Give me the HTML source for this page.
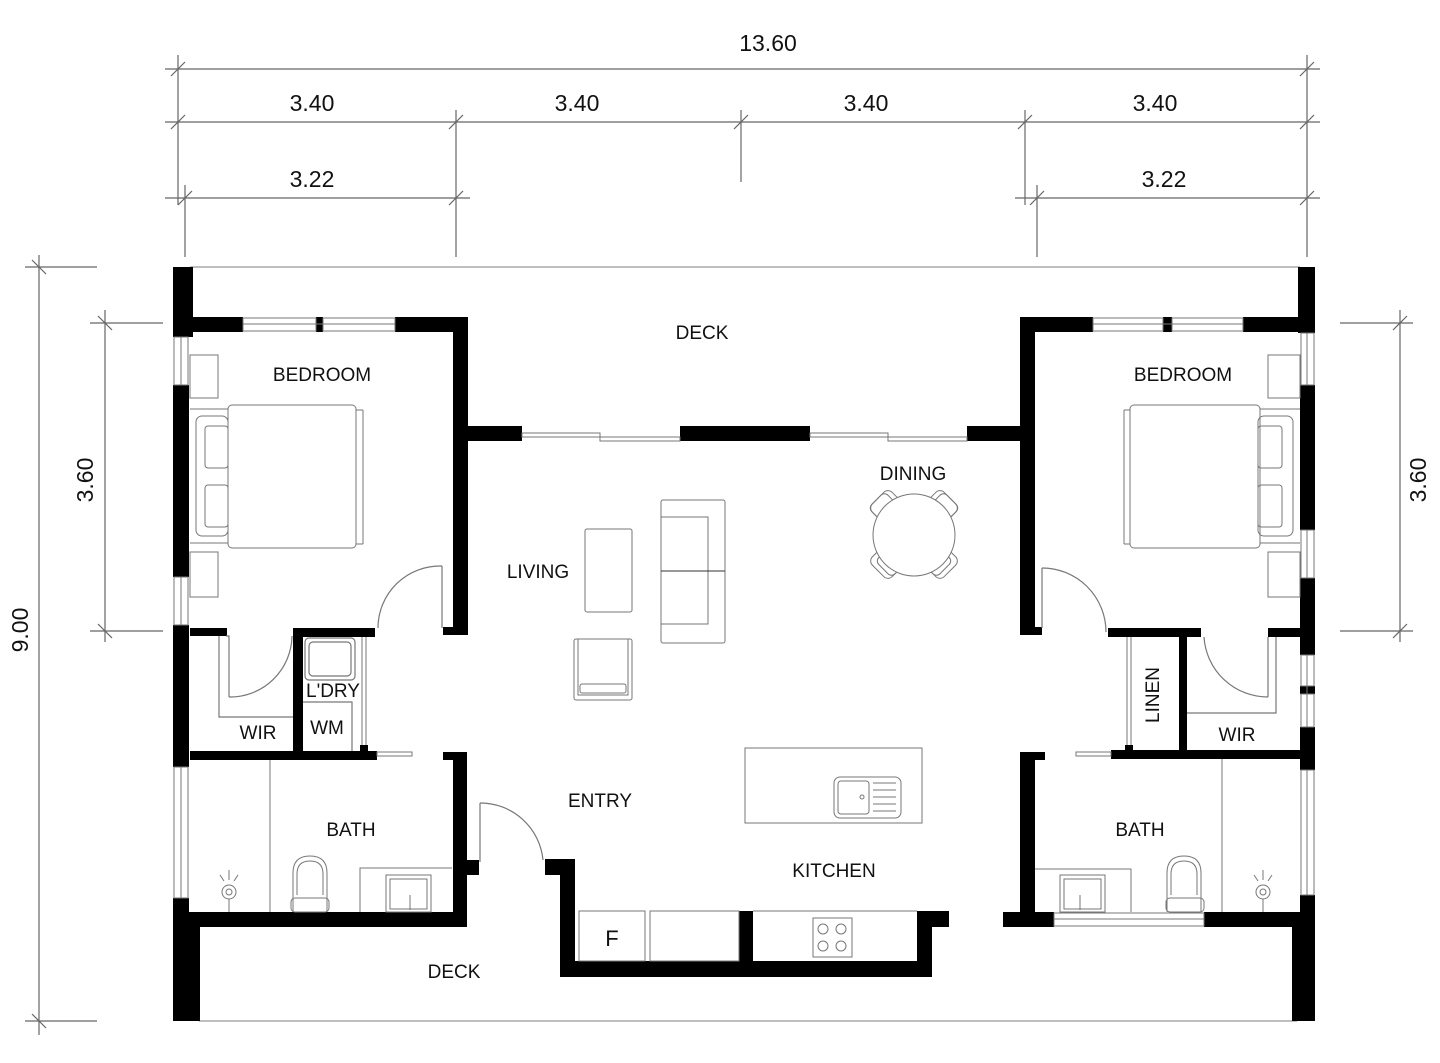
<!DOCTYPE html>
<html><head><meta charset="utf-8"><style>
html,body{margin:0;padding:0;background:#fff;}
svg{display:block;}
text{font-family:"Liberation Sans",Arial,sans-serif;fill:#111;}
.d{stroke:#666;stroke-width:1.2;fill:none;}
.f{stroke:#777;stroke-width:1.2;fill:none;}
.w{fill:#000;}
.win{fill:#fff;stroke:#777;stroke-width:1;}
.lbl{font-size:19px;}
.dim{font-size:23px;}
</style></head><body>
<svg width="1440" height="1063" viewBox="0 0 1440 1063" xmlns="http://www.w3.org/2000/svg">
<g class="d">
<line x1="165" y1="69" x2="1320" y2="69"/>
<line x1="165" y1="122" x2="1320" y2="122"/>
<line x1="165" y1="198" x2="470" y2="198"/>
<line x1="1015" y1="198" x2="1320" y2="198"/>
<line x1="178" y1="55" x2="178" y2="205"/>
<line x1="185" y1="185" x2="185" y2="257"/>
<line x1="456" y1="110" x2="456" y2="257"/>
<line x1="741" y1="110" x2="741" y2="182"/>
<line x1="1025" y1="110" x2="1025" y2="205"/>
<line x1="1037" y1="185" x2="1037" y2="257"/>
<line x1="1307" y1="55" x2="1307" y2="257"/>
<line x1="171" y1="76" x2="185" y2="62"/><line x1="1300" y1="76" x2="1314" y2="62"/>
<line x1="171" y1="129" x2="185" y2="115"/><line x1="449" y1="129" x2="463" y2="115"/>
<line x1="734" y1="129" x2="748" y2="115"/><line x1="1018" y1="129" x2="1032" y2="115"/>
<line x1="1300" y1="129" x2="1314" y2="115"/>
<line x1="178" y1="205" x2="192" y2="191"/><line x1="449" y1="205" x2="463" y2="191"/>
<line x1="1030" y1="205" x2="1044" y2="191"/><line x1="1300" y1="205" x2="1314" y2="191"/>
<line x1="39" y1="255" x2="39" y2="1035"/>
<line x1="25" y1="267" x2="97" y2="267"/><line x1="25" y1="1021" x2="97" y2="1021"/>
<line x1="32" y1="260" x2="46" y2="274"/><line x1="32" y1="1014" x2="46" y2="1028"/>
<line x1="105" y1="310" x2="105" y2="642"/>
<line x1="90" y1="323" x2="163" y2="323"/><line x1="90" y1="631" x2="163" y2="631"/>
<line x1="98" y1="316" x2="112" y2="330"/><line x1="98" y1="624" x2="112" y2="638"/>
<line x1="1400" y1="310" x2="1400" y2="642"/>
<line x1="1340" y1="323" x2="1413" y2="323"/><line x1="1340" y1="631" x2="1413" y2="631"/>
<line x1="1393" y1="330" x2="1407" y2="316"/><line x1="1393" y1="638" x2="1407" y2="624"/>
</g>
<text class="dim" x="768" y="51" text-anchor="middle">13.60</text>
<text class="dim" x="312" y="111" text-anchor="middle">3.40</text>
<text class="dim" x="577" y="111" text-anchor="middle">3.40</text>
<text class="dim" x="866" y="111" text-anchor="middle">3.40</text>
<text class="dim" x="1155" y="111" text-anchor="middle">3.40</text>
<text class="dim" x="312" y="187" text-anchor="middle">3.22</text>
<text class="dim" x="1164" y="187" text-anchor="middle">3.22</text>
<text class="dim" transform="translate(28,630) rotate(-90)" text-anchor="middle">9.00</text>
<text class="dim" transform="translate(93,480) rotate(-90)" text-anchor="middle">3.60</text>
<text class="dim" transform="translate(1426,480) rotate(-90)" text-anchor="middle">3.60</text>

<g class="d" style="stroke:#999">
<line x1="190" y1="267" x2="1300" y2="267"/>
<line x1="199" y1="1021" x2="1297" y2="1021"/>
</g>

<g class="w">
<rect x="173" y="267" width="20" height="70"/>
<rect x="173" y="385" width="16" height="192"/>
<rect x="173" y="625" width="16" height="142"/>
<rect x="173" y="898" width="16" height="30"/>
<rect x="173" y="912" width="27" height="109"/>
<rect x="190" y="317" width="53" height="15"/>
<rect x="316" y="317" width="7" height="15"/>
<rect x="395" y="317" width="73" height="15"/>
<rect x="453" y="317" width="15" height="318"/>
<rect x="443" y="627" width="12" height="8"/>
<rect x="468" y="426" width="54" height="15"/>
<rect x="680" y="426" width="130" height="15"/>
<rect x="967" y="426" width="55" height="15"/>
<rect x="190" y="628" width="37" height="8"/>
<rect x="293" y="628" width="82" height="9"/>
<rect x="293" y="628" width="10" height="128"/>
<rect x="360" y="745" width="8" height="10"/>
<rect x="190" y="751" width="187" height="9"/>
<rect x="443" y="752" width="24" height="8"/>
<rect x="453" y="752" width="14" height="175"/>
<rect x="190" y="912" width="277" height="15"/>
<rect x="467" y="860" width="12" height="15"/>
<rect x="545" y="859" width="30" height="16"/>
<rect x="560" y="859" width="15" height="118"/>
<rect x="560" y="961" width="372" height="16"/>
<rect x="739" y="911" width="14" height="60"/>
<rect x="917" y="911" width="15" height="66"/>
<rect x="917" y="911" width="32" height="16"/>
<rect x="1298" y="267" width="17" height="66"/>
<rect x="1300" y="385" width="15" height="145"/>
<rect x="1300" y="578" width="15" height="77"/>
<rect x="1300" y="686" width="15" height="8"/>
<rect x="1300" y="727" width="15" height="43"/>
<rect x="1300" y="895" width="15" height="30"/>
<rect x="1292" y="912" width="23" height="109"/>
<rect x="1020" y="317" width="73" height="15"/>
<rect x="1163" y="317" width="9" height="15"/>
<rect x="1243" y="317" width="57" height="15"/>
<rect x="1020" y="317" width="15" height="318"/>
<rect x="1020" y="627" width="22" height="8"/>
<rect x="1108" y="628" width="93" height="9"/>
<rect x="1268" y="628" width="32" height="9"/>
<rect x="1179" y="630" width="8" height="122"/>
<rect x="1125" y="745" width="8" height="10"/>
<rect x="1111" y="750" width="194" height="9"/>
<rect x="1020" y="752" width="15" height="175"/>
<rect x="1020" y="752" width="25" height="8"/>
<rect x="1003" y="912" width="51" height="15"/>
<rect x="1204" y="912" width="101" height="15"/>
</g>

<g class="win">
<rect x="243" y="318" width="73" height="13"/><rect x="323" y="318" width="72" height="13"/>
<rect x="1093" y="318" width="70" height="13"/><rect x="1172" y="318" width="71" height="13"/>
<rect x="174" y="337" width="14" height="48"/><rect x="174" y="577" width="14" height="48"/>
<rect x="174" y="767" width="14" height="131"/>
<rect x="1301" y="333" width="13" height="52"/><rect x="1301" y="530" width="13" height="48"/>
<rect x="1301" y="655" width="13" height="31"/><rect x="1301" y="694" width="13" height="33"/>
<rect x="1301" y="770" width="13" height="125"/>
<rect x="1054" y="913" width="150" height="13"/>
</g>
<g class="f" style="stroke-width:1">
<line x1="181" y1="337" x2="181" y2="385"/><line x1="181" y1="577" x2="181" y2="625"/><line x1="181" y1="767" x2="181" y2="898"/>
<line x1="1307" y1="333" x2="1307" y2="385"/><line x1="1307" y1="530" x2="1307" y2="578"/>
<line x1="1307" y1="655" x2="1307" y2="727"/><line x1="1307" y1="770" x2="1307" y2="895"/>
<line x1="243" y1="324" x2="395" y2="324"/><line x1="1093" y1="324" x2="1243" y2="324"/>
<line x1="1054" y1="919" x2="1204" y2="919"/>
<rect x="522" y="433" width="78" height="4"/><rect x="600" y="437" width="80" height="4"/>
<rect x="810" y="433" width="78" height="4"/><rect x="888" y="437" width="79" height="4"/>
<rect x="377" y="752" width="35" height="4"/><rect x="1076" y="752" width="35" height="4"/>
<line x1="362" y1="637" x2="362" y2="745"/><line x1="366" y1="637" x2="366" y2="745"/>
<line x1="1127" y1="637" x2="1127" y2="745"/><line x1="1131" y1="637" x2="1131" y2="745"/>
</g>

<g class="f">
<line x1="442" y1="566" x2="442" y2="628"/><path d="M442 566 A62 62 0 0 0 378 628"/>
<polyline points="226,636 229,636 229,697"/><path d="M229 697 A62 62 0 0 0 292 636"/>
<polyline points="219,636 219,717 293,717"/>
<rect x="305" y="638" width="50" height="42" rx="4"/><rect x="309" y="642" width="42" height="34" rx="4"/>
<polyline points="303,702 352,702 352,751"/>
<line x1="480" y1="803" x2="480" y2="862"/><path d="M480 803 A63 63 0 0 1 543 860"/>
<line x1="1042" y1="568" x2="1042" y2="628"/><path d="M1042 568 A64 64 0 0 1 1106 632"/>
<line x1="1268" y1="637" x2="1268" y2="697"/><path d="M1268 697 A64 64 0 0 1 1204 637"/>
<polyline points="1276,637 1276,713 1187,713"/>
</g>

<g class="f" style="stroke-width:1">
<rect x="190" y="355" width="28" height="43"/><rect x="190" y="552" width="28" height="45"/>
<rect x="196" y="416" width="32" height="120" rx="6"/>
<rect x="205" y="426" width="23" height="42" rx="3"/><rect x="205" y="485" width="23" height="42" rx="3"/>
<rect x="228" y="405" width="128" height="143" rx="4"/>
<line x1="356" y1="410" x2="363" y2="410"/><line x1="363" y1="410" x2="363" y2="544"/><line x1="356" y1="544" x2="363" y2="544"/>
<line x1="190" y1="409" x2="228" y2="409"/><line x1="190" y1="543" x2="228" y2="543"/>
<rect x="1268" y="355" width="32" height="43"/><rect x="1268" y="552" width="32" height="45"/>
<rect x="1258" y="416" width="35" height="120" rx="6"/>
<rect x="1258" y="426" width="24" height="42" rx="3"/><rect x="1258" y="485" width="24" height="42" rx="3"/>
<rect x="1130" y="405" width="130" height="143" rx="4"/>
<line x1="1130" y1="410" x2="1124" y2="410"/><line x1="1124" y1="410" x2="1124" y2="544"/><line x1="1124" y1="544" x2="1130" y2="544"/>
<line x1="1260" y1="409" x2="1300" y2="409"/><line x1="1260" y1="543" x2="1300" y2="543"/>
<rect x="585" y="529" width="47" height="83" rx="2"/>
<rect x="661" y="500" width="64" height="143" rx="2"/>
<polyline points="661,517 708,517 708,624 661,624"/>
<line x1="661" y1="571" x2="725" y2="571" style="stroke:#333"/>
<rect x="574" y="639" width="58" height="61" rx="2"/>
<rect x="578" y="639" width="50" height="56"/>
<rect x="580" y="684" width="46" height="9" rx="2"/>
<!-- dining chairs -->
<g transform="translate(888,508) rotate(45)"><rect x="-14" y="-14" width="28" height="28" rx="6" fill="#fff"/><rect x="-14" y="-9" width="23" height="23" rx="5"/></g>
<g transform="translate(940,508) rotate(45)"><rect x="-14" y="-14" width="28" height="28" rx="6" fill="#fff"/><rect x="-9" y="-14" width="23" height="23" rx="5"/></g>
<g transform="translate(888,561) rotate(45)"><rect x="-14" y="-14" width="28" height="28" rx="6" fill="#fff"/><rect x="-9" y="-14" width="23" height="23" rx="5"/></g>
<g transform="translate(940,561) rotate(45)"><rect x="-14" y="-14" width="28" height="28" rx="6" fill="#fff"/><rect x="-14" y="-9" width="23" height="23" rx="5"/></g>
<circle cx="914" cy="535" r="41" fill="#fff"/>
<rect x="745" y="748" width="177" height="75"/>
<rect x="834" y="777" width="67" height="41" rx="6"/>
<rect x="838" y="781" width="31" height="33" rx="3"/>
<circle cx="862" cy="797" r="2"/>
<line x1="873" y1="783" x2="896" y2="783"/><line x1="873" y1="790" x2="896" y2="790"/>
<line x1="873" y1="797" x2="896" y2="797"/><line x1="873" y1="804" x2="896" y2="804"/><line x1="873" y1="811" x2="896" y2="811"/>
<rect x="579" y="911" width="66" height="50"/>
<rect x="650" y="911" width="89" height="50"/>
<line x1="753" y1="911" x2="917" y2="911"/>
<rect x="813" y="918" width="39" height="39"/>
<ellipse cx="823" cy="929" rx="5" ry="5"/><ellipse cx="841" cy="929" rx="5" ry="5"/>
<ellipse cx="823" cy="946" rx="5" ry="5"/><ellipse cx="841" cy="946" rx="5" ry="5"/>
<line x1="270" y1="760" x2="270" y2="912"/>
<path d="M293 912 L293 873 Q293 856 310 856 Q327 856 327 873 L327 912"/>
<path d="M297 895 L297 874 Q297 861 310 861 Q323 861 323 874 L323 895"/>
<rect x="291" y="898" width="38" height="14" rx="4"/>
<polyline points="360,912 360,868 452,868"/>
<rect x="386" y="875" width="45" height="37"/><rect x="390" y="879" width="37" height="30"/>
<line x1="410" y1="895" x2="410" y2="910"/>
<circle cx="229" cy="892" r="7"/><circle cx="229" cy="892" r="3"/>
<line x1="229" y1="899" x2="229" y2="912"/>
<line x1="229" y1="870" x2="229" y2="880"/><line x1="220" y1="875" x2="224" y2="881"/><line x1="238" y1="875" x2="234" y2="881"/>
<line x1="1222" y1="759" x2="1222" y2="912"/>
<path d="M1167 912 L1167 873 Q1167 856 1184 856 Q1201 856 1201 873 L1201 912"/>
<path d="M1171 895 L1171 874 Q1171 861 1184 861 Q1197 861 1197 874 L1197 895"/>
<rect x="1166" y="898" width="38" height="14" rx="4"/>
<polyline points="1035,869 1131,869 1131,912"/>
<rect x="1060" y="875" width="45" height="37"/><rect x="1064" y="879" width="37" height="30"/>
<line x1="1080" y1="895" x2="1080" y2="910"/>
<circle cx="1263" cy="892" r="7"/><circle cx="1263" cy="892" r="3"/>
<line x1="1263" y1="899" x2="1263" y2="912"/>
<line x1="1263" y1="870" x2="1263" y2="880"/><line x1="1254" y1="875" x2="1258" y2="881"/><line x1="1272" y1="875" x2="1268" y2="881"/>
</g>

<g class="lbl">
<text x="702" y="339" text-anchor="middle">DECK</text>
<text x="322" y="381" text-anchor="middle">BEDROOM</text>
<text x="1183" y="381" text-anchor="middle">BEDROOM</text>
<text x="913" y="480" text-anchor="middle">DINING</text>
<text x="538" y="578" text-anchor="middle">LIVING</text>
<text x="333" y="697" text-anchor="middle">L'DRY</text>
<text x="327" y="734" text-anchor="middle">WM</text>
<text x="258" y="739" text-anchor="middle">WIR</text>
<text x="1237" y="741" text-anchor="middle">WIR</text>
<text transform="translate(1159,695) rotate(-90)" text-anchor="middle">LINEN</text>
<text x="600" y="807" text-anchor="middle">ENTRY</text>
<text x="351" y="836" text-anchor="middle">BATH</text>
<text x="1140" y="836" text-anchor="middle">BATH</text>
<text x="834" y="877" text-anchor="middle">KITCHEN</text>
<text x="454" y="978" text-anchor="middle">DECK</text>
<text x="612" y="946" text-anchor="middle" style="font-size:22px">F</text>
</g>
</svg>
</body></html>
